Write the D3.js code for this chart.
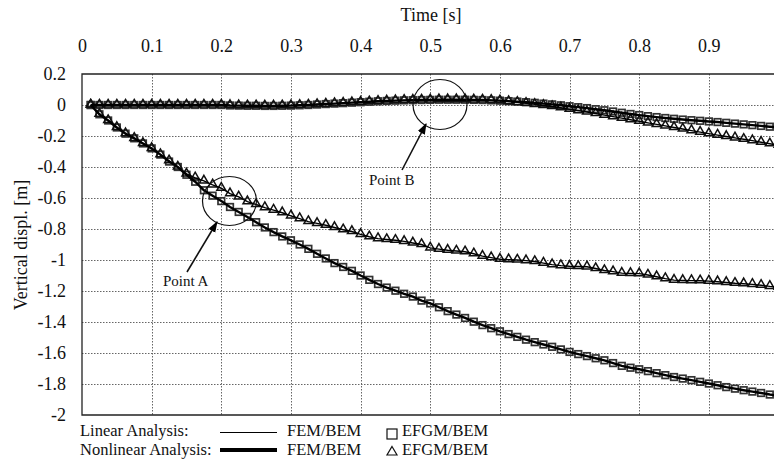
<!DOCTYPE html>
<html><head><meta charset="utf-8">
<script src="https://cdn.jsdelivr.net/npm/d3@7"></script>
<style>body{margin:0;background:#fff}svg{display:block}
svg text{font-family:"Liberation Serif","Times New Roman","DejaVu Serif",serif !important;}</style>
</head><body>
<svg id="c" width="774" height="459"></svg>
<script>
const times = [0.0125,0.025,0.0375,0.05,0.0625,0.075,0.0875,0.1,0.1125,0.125,0.1375,0.15,0.1625,0.175,0.1875,0.2,
0.2125,0.225,0.2375,0.25,0.2625,0.275,0.2875,0.3,0.3125,0.325,0.3375,0.35,0.3625,0.375,0.3875,0.4,
0.4125,0.425,0.4375,0.45,0.4625,0.475,0.4875,0.5,0.5125,0.525,0.5375,0.55,0.5625,0.575,0.5875,0.6,
0.6125,0.625,0.6375,0.65,0.6625,0.675,0.6875,0.7,0.7125,0.725,0.7375,0.75,0.7625,0.775,0.7875,0.8,
0.8125,0.825,0.8375,0.85,0.8625,0.875,0.8875,0.9,0.9125,0.925,0.9375,0.95,0.9625,0.975,0.9875,1.0];

// Point A, linear analysis
const linearA = [0,-0.06,-0.10,-0.145,-0.185,-0.215,-0.248,-0.28,-0.32,-0.365,-0.40,-0.45,-0.495,-0.55,-0.585,-0.62,
-0.658,-0.69,-0.722,-0.756,-0.79,-0.82,-0.848,-0.873,-0.90,-0.928,-0.96,-0.99,-1.02,-1.045,-1.07,-1.10,
-1.128,-1.155,-1.178,-1.198,-1.218,-1.236,-1.262,-1.28,-1.305,-1.33,-1.352,-1.374,-1.398,-1.42,-1.44,-1.46,
-1.478,-1.496,-1.514,-1.53,-1.545,-1.56,-1.577,-1.593,-1.607,-1.62,-1.634,-1.647,-1.665,-1.683,-1.695,-1.705,
-1.717,-1.73,-1.743,-1.755,-1.765,-1.775,-1.786,-1.797,-1.808,-1.82,-1.83,-1.84,-1.849,-1.858,-1.868,-1.876];

// Point A, nonlinear analysis
const nonlinearA = [0,-0.06,-0.10,-0.145,-0.185,-0.215,-0.248,-0.28,-0.32,-0.36,-0.40,-0.445,-0.47,-0.49,-0.515,-0.537,
-0.572,-0.593,-0.624,-0.642,-0.662,-0.678,-0.695,-0.715,-0.733,-0.752,-0.764,-0.776,-0.79,-0.805,-0.816,-0.835,
-0.85,-0.862,-0.868,-0.873,-0.88,-0.89,-0.90,-0.922,-0.93,-0.937,-0.942,-0.947,-0.96,-0.975,-0.985,-0.995,
-0.998,-1.0,-1.004,-1.01,-1.02,-1.03,-1.036,-1.04,-1.042,-1.044,-1.055,-1.068,-1.075,-1.085,-1.087,-1.088,
-1.097,-1.108,-1.12,-1.13,-1.132,-1.133,-1.134,-1.136,-1.14,-1.145,-1.15,-1.153,-1.157,-1.163,-1.17,-1.175];

// Point B, linear analysis
const linearB = [0,0,0,0,0,0,0,0,0,0,0,0,0,0,0,0,
-0.003,-0.004,-0.005,-0.005,-0.006,-0.006,-0.005,-0.004,-0.002,0,0.003,0.006,0.009,0.012,0.015,0.018,
0.021,0.024,0.026,0.028,0.03,0.031,0.032,0.033,0.034,0.034,0.034,0.034,0.033,0.032,0.03,0.028,
0.025,0.022,0.018,0.014,0.009,0.004,-0.002,-0.008,-0.014,-0.02,-0.027,-0.034,-0.042,-0.05,-0.058,-0.065,
-0.072,-0.078,-0.084,-0.089,-0.094,-0.098,-0.102,-0.106,-0.11,-0.115,-0.12,-0.125,-0.13,-0.135,-0.14,-0.145];

// Point B, nonlinear analysis
const nonlinearB = [0,0,0,0,0,0,0,0,0,0,0,0,0,0,0,0,
-0.003,-0.004,-0.005,-0.005,-0.006,-0.006,-0.005,-0.004,-0.002,0,0.003,0.006,0.009,0.012,0.015,0.018,
0.021,0.024,0.026,0.028,0.03,0.031,0.032,0.033,0.034,0.034,0.034,0.034,0.033,0.032,0.03,0.027,
0.022,0.017,0.011,0.004,-0.003,-0.01,-0.018,-0.027,-0.036,-0.045,-0.055,-0.065,-0.075,-0.085,-0.095,-0.105,
-0.115,-0.125,-0.135,-0.145,-0.155,-0.165,-0.175,-0.185,-0.194,-0.203,-0.212,-0.221,-0.23,-0.24,-0.25,-0.26];

const xTicks = [0,0.1,0.2,0.3,0.4,0.5,0.6,0.7,0.8,0.9];
const xTickLabels = ["0","0.1","0.2","0.3","0.4","0.5","0.6","0.7","0.8","0.9"];
const yTicks = [0.2,0,-0.2,-0.4,-0.6,-0.8,-1,-1.2,-1.4,-1.6,-1.8,-2];
const yTickLabels = ["0.2","0","-0.2","-0.4","-0.6","-0.8","-1","-1.2","-1.4","-1.6","-1.8","-2"];

const FONT = "Liberation Serif";
const svg = d3.select("#c");
const x = d3.scaleLinear().domain([0,1]).range([82,778.5]);
const y = d3.scaleLinear().domain([-2,0.2]).range([415,74]);

// grid
const grid = svg.append("g").attr("stroke","#666").attr("stroke-width",1).attr("stroke-dasharray","1.5,1.5");
grid.selectAll(".vg").data(xTicks.filter(d=>d>0)).enter().append("line")
  .attr("x1",d=>Math.round(x(d))+0.5).attr("x2",d=>Math.round(x(d))+0.5).attr("y1",y(0.2)).attr("y2",y(-2));
grid.selectAll(".hg").data(yTicks.filter(d=>d<0.2&&d>-2)).enter().append("line")
  .attr("x1",x(0)).attr("x2",x(1)).attr("y1",d=>Math.round(y(d))+0.5).attr("y2",d=>Math.round(y(d))+0.5);

// frame
svg.append("path").attr("fill","none").attr("stroke","#222").attr("stroke-width",1.3)
  .attr("d",`M${x(1)},${y(0.2)}H${x(0)}V${y(-2)}H${x(1)}`);

// axes
const xa = svg.append("g").attr("transform",`translate(0,${y(0.2)})`)
  .call(d3.axisTop(x).tickValues(xTicks).tickFormat((d,i)=>xTickLabels[i]).tickSize(0).tickPadding(22));
xa.select(".domain").remove();
xa.attr("font-family",FONT).attr("font-size",18);
xa.selectAll("text").attr("fill","#111");
const ya = svg.append("g").attr("transform",`translate(${x(0)},0)`)
  .call(d3.axisLeft(y).tickValues(yTicks).tickFormat((d,i)=>yTickLabels[i]).tickSize(0).tickPadding(16));
ya.select(".domain").remove();
ya.attr("font-family",FONT).attr("font-size",18);
ya.selectAll("text").attr("fill","#111");

svg.append("text").attr("x",431).attr("y",21).attr("text-anchor","middle")
  .attr("font-size",18).attr("fill","#111").text("Time [s]");
svg.append("text").attr("transform","translate(27,245) rotate(-90)").attr("text-anchor","middle")
  .attr("font-size",18).attr("fill","#111").text("Vertical displ. [m]");

// data
const plot = svg.append("g");
const line = d3.line().x((d,i)=>x(times[i])).y(d=>y(d));
const tri = d3.symbol().type(d3.symbolTriangle).size(34);
function squares(vals){
  plot.append("g").selectAll("rect").data(vals).enter().append("rect")
    .attr("x",(d,i)=>x(times[i])-3.3).attr("y",d=>y(d)-3.3).attr("width",6.6).attr("height",6.6)
    .attr("fill","none").attr("stroke","#333").attr("stroke-width",1.7);
}
function triangles(vals){
  plot.append("g").selectAll("path").data(vals).enter().append("path")
    .attr("d",tri).attr("transform",(d,i)=>`translate(${x(times[i])},${y(d)-0.5})`)
    .attr("fill","none").attr("stroke","#111").attr("stroke-width",1.5);
}
squares(linearA); squares(linearB);
triangles(nonlinearA); triangles(nonlinearB);
plot.append("path").datum(linearA).attr("d",line).attr("fill","none").attr("stroke","#000").attr("stroke-width",2.4);
plot.append("path").datum(linearB).attr("d",line).attr("fill","none").attr("stroke","#000").attr("stroke-width",2.4);
plot.append("path").datum(nonlinearA).attr("d",line).attr("fill","none").attr("stroke","#000").attr("stroke-width",1.4);
plot.append("path").datum(nonlinearB).attr("d",line).attr("fill","none").attr("stroke","#000").attr("stroke-width",1.4);

// annotations
svg.append("defs").append("marker").attr("id","ah").attr("viewBox","0 0 10 10").attr("refX",9).attr("refY",5)
  .attr("markerWidth",7).attr("markerHeight",7).attr("orient","auto")
  .append("path").attr("d","M0,1.5L10,5L0,8.5Z").attr("fill","#000");
const ann = svg.append("g").attr("fill","none").attr("stroke","#111").attr("stroke-width",1.2);
ann.append("ellipse").attr("cx",229.5).attr("cy",201).attr("rx",27).attr("ry",24.5);
ann.append("ellipse").attr("cx",440).attr("cy",104.5).attr("rx",27).attr("ry",25);
ann.append("line").attr("x1",187).attr("y1",272).attr("x2",217).attr("y2",222).attr("stroke-width",1.6).attr("marker-end","url(#ah)");
ann.append("line").attr("x1",402).attr("y1",170).attr("x2",426).attr("y2",124).attr("stroke-width",1.6).attr("marker-end","url(#ah)");
svg.append("text").attr("x",163).attr("y",286).attr("font-size",15).attr("fill","#111").text("Point A");
svg.append("text").attr("x",369).attr("y",185).attr("font-size",15).attr("fill","#111").text("Point B");

// legend
const lg = svg.append("g").attr("font-size",16.5).attr("fill","#111");
lg.append("text").attr("x",80).attr("y",436).text("Linear Analysis:");
lg.append("text").attr("x",80).attr("y",455).text("Nonlinear Analysis:");
lg.append("line").attr("x1",220).attr("x2",277).attr("y1",432.5).attr("y2",432.5).attr("stroke","#000").attr("stroke-width",1);
lg.append("line").attr("x1",220).attr("x2",277).attr("y1",450).attr("y2",450).attr("stroke","#000").attr("stroke-width",4);
lg.append("text").attr("x",287).attr("y",436).text("FEM/BEM");
lg.append("text").attr("x",287).attr("y",455).text("FEM/BEM");
lg.append("rect").attr("x",387).attr("y",429).attr("width",10).attr("height",10).attr("fill","none").attr("stroke","#111").attr("stroke-width",1.2);
lg.append("path").attr("d","M392,446.5L397,455L387,455Z").attr("fill","none").attr("stroke","#111").attr("stroke-width",1.2);
lg.append("text").attr("x",402).attr("y",436).text("EFGM/BEM");
lg.append("text").attr("x",402).attr("y",455).text("EFGM/BEM");
</script>
</body></html>
